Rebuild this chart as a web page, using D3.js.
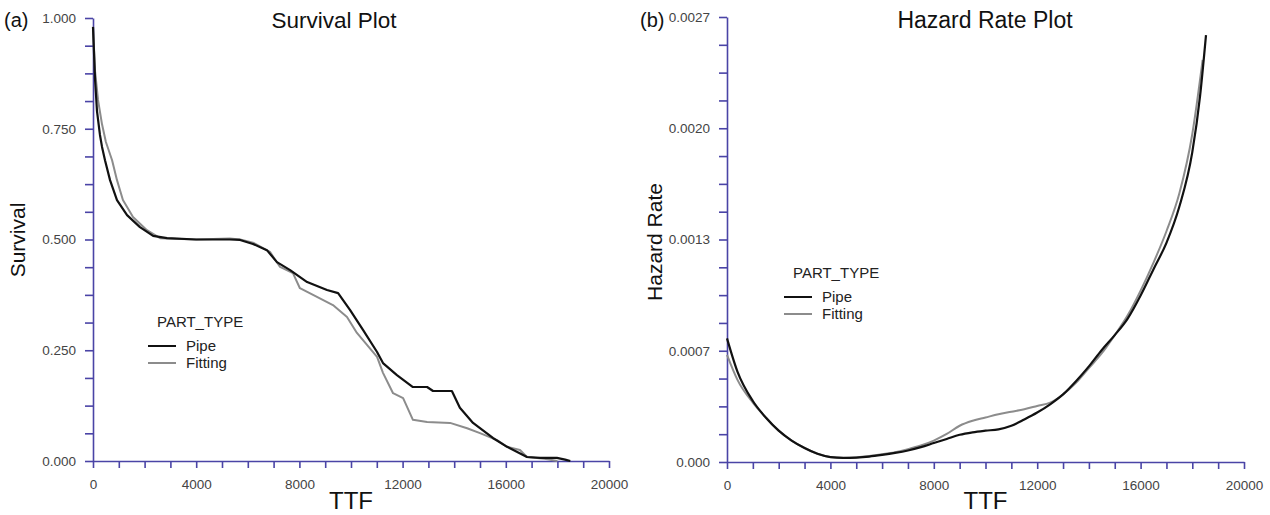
<!DOCTYPE html>
<html><head><meta charset="utf-8">
<script src="https://cdn.jsdelivr.net/npm/d3@7"></script>
<style>body{margin:0;background:#fff;}text{font-family:"Liberation Sans",Arial,sans-serif;}</style>
</head><body><svg id="c" width="1270" height="515"></svg>
<script>
// ---------- data ----------
const seriesNames = ["Pipe", "Fitting"];
const survivalPipeT = [0,80,155,270,350,465,660,930,1320,1820,2330,2870,4000,5300,5700,6200,6740,7130,7640,8300,9070,9500,9960,10465,11010,11240,11780,12400,12950,13180,13910,14220,14730,15500,16050,16820,17330,17980,18300,18500];
const survivalPipeS = [0.98,0.86,0.79,0.736,0.709,0.679,0.634,0.589,0.555,0.528,0.508,0.503,0.500,0.500,0.499,0.490,0.476,0.449,0.431,0.404,0.386,0.379,0.341,0.296,0.246,0.221,0.194,0.167,0.167,0.158,0.158,0.120,0.086,0.052,0.032,0.009,0.007,0.007,0.003,0.0];
const survivalFitT = [0,80,194,350,500,740,930,1160,1550,2090,2600,4000,5300,5700,6200,6860,7250,7750,8020,8530,9300,9845,10230,10620,11010,11240,11630,12020,12400,12950,13840,14500,15000,15660,16050,16550,16820,17500,18000];
const survivalFitS = [0.98,0.88,0.815,0.76,0.72,0.679,0.634,0.589,0.551,0.521,0.503,0.500,0.502,0.500,0.493,0.472,0.438,0.424,0.390,0.375,0.352,0.325,0.289,0.262,0.235,0.199,0.153,0.142,0.093,0.088,0.086,0.074,0.063,0.047,0.032,0.025,0.009,0.005,0.0];
const hazardPipeT = [0,400,1000,1500,2000,2500,3000,3500,4000,4500,5000,5500,6000,6500,7000,7500,8000,8500,9000,9500,10000,10500,11000,11500,12000,12500,13000,13500,14000,14500,15000,15500,16000,16500,17000,17500,18000,18300,18530];
const hazardPipeH = [0.00075,0.00055,0.00037,0.00027,0.00019,0.00013,0.000085,0.00005,0.00003,0.000025,0.000027,0.000033,0.000043,0.000055,0.00007,0.00009,0.000115,0.00014,0.000165,0.00018,0.00019,0.000198,0.00022,0.000258,0.0003,0.00035,0.00041,0.00049,0.00058,0.00068,0.00077,0.00087,0.00101,0.00117,0.00133,0.00155,0.00188,0.00222,0.00259];
const hazardFitT = [0,400,1000,1500,2000,2500,3000,3500,4000,4500,5000,5500,6000,6500,7000,7500,8000,8500,9000,9500,10000,10500,11000,11500,12000,12500,13000,13500,14000,14500,15000,15500,16000,16500,17000,17500,18000,18400];
const hazardFitH = [0.00065,0.0005,0.00036,0.00027,0.00019,0.00013,0.000085,0.00005,0.00003,0.000025,0.000028,0.000036,0.000047,0.00006,0.000078,0.0001,0.00013,0.00017,0.00022,0.00025,0.00027,0.00029,0.000305,0.00032,0.00034,0.00036,0.00041,0.00048,0.00057,0.00066,0.00077,0.00089,0.00104,0.00121,0.0014,0.00163,0.00199,0.00244];
const xTickValues = [0,4000,8000,12000,16000,20000];
const xTickLabels = ["0","4000","8000","12000","16000","20000"];
const survivalTickLabels = ["0.000","0.250","0.500","0.750","1.000"];
const hazardTickLabels = ["0.000","0.0007","0.0013","0.0020","0.0027"];

// ---------- drawing ----------
const svg = d3.select("#c");
const axisColor = "#4a44a6";
const colors = ["#111111","#8c8c8c"];

function panel(opt){
  const x = d3.scaleLinear().domain([0,20000]).range([opt.x0,opt.x1]);
  const y = d3.scaleLinear().domain([0,opt.ymax]).range([opt.y0,opt.y1]);
  const g = svg.append("g");
  const xMinor = d3.range(0,20001,1000);
  const yMinor = d3.range(0,17).map(i=>opt.ymax*i/16);
  const xa = d3.axisBottom(x).tickValues(xMinor).tickSize(7).tickFormat((d)=>{const i=xTickValues.indexOf(d);return i>=0?xTickLabels[i]:"";}).tickSizeOuter(0);
  const ya = d3.axisLeft(y).tickValues(yMinor).tickSize(8).tickSizeOuter(0).tickFormat((d,i)=> i%4===0 ? opt.labels[i/4] : "");
  const gx = g.append("g").attr("transform",`translate(0,${opt.y0})`).call(xa);
  const gy = g.append("g").attr("transform",`translate(${opt.x0},0)`).call(ya);
  [gx,gy].forEach(a=>{
    a.selectAll("path,line").attr("stroke",axisColor).attr("stroke-width",1.6);
    a.selectAll("text").attr("fill","#444").attr("font-size",13.5).attr("font-family","Liberation Sans, Arial, sans-serif");
  });
  gx.selectAll("text").attr("dy","1.3em");
  gy.selectAll("text").attr("dx","-0.45em");
  const line = d3.line().x(d=>x(d[0])).y(d=>y(d[1])).curve(opt.curve);
  g.append("path").datum(opt.series[1]).attr("fill","none").attr("stroke",colors[1]).attr("stroke-width",2).attr("stroke-linejoin","round").attr("d",line);
  g.append("path").datum(opt.series[0]).attr("fill","none").attr("stroke",colors[0]).attr("stroke-width",2.2).attr("stroke-linejoin","round").attr("d",line);
  // titles
  g.append("text").attr("x",opt.titleX).attr("y",28).attr("text-anchor","middle").attr("font-size",opt.titleSize).attr("fill","#111").text(opt.title);
  g.append("text").attr("x",opt.panelX).attr("y",27).attr("font-size",20).attr("fill","#111").text(opt.panelLabel);
  g.append("text").attr("x",(opt.x0+opt.x1)/2).attr("y",509).attr("text-anchor","middle").attr("font-size",24).attr("fill","#111").text("TTF");
  g.append("text").attr("transform",`translate(${opt.ytX},${opt.ytY}) rotate(-90)`).attr("text-anchor","middle").attr("font-size",21).attr("fill","#111").text(opt.ytitle);
  // legend
  const lg = g.append("g").attr("transform",`translate(${opt.legX},${opt.legY})`);
  lg.append("text").attr("x",9).attr("y",0).attr("font-size",15).attr("fill","#222").text("PART_TYPE");
  seriesNames.forEach((n,i)=>{
    lg.append("line").attr("x1",0).attr("x2",28).attr("y1",19+i*17).attr("y2",19+i*17).attr("stroke",colors[i]).attr("stroke-width",2);
    lg.append("text").attr("x",38).attr("y",24+i*17).attr("font-size",15).attr("fill","#222").text(n);
  });
}

panel({x0:93,x1:609,y0:461,y1:18,ymax:1,labels:survivalTickLabels,
  series:[d3.zip(survivalPipeT,survivalPipeS),d3.zip(survivalFitT,survivalFitS)],
  curve:d3.curveLinear,title:"Survival Plot",titleX:334,titleSize:22.5,panelLabel:"(a)",panelX:4,
  ytitle:"Survival",ytX:25,ytY:240,legX:148,legY:327});
panel({x0:727,x1:1244,y0:462,y1:17,ymax:0.0027,labels:hazardTickLabels,
  series:[d3.zip(hazardPipeT,hazardPipeH),d3.zip(hazardFitT,hazardFitH)],
  curve:d3.curveMonotoneX,title:"Hazard Rate Plot",titleX:985,titleSize:23,panelLabel:"(b)",panelX:640,
  ytitle:"Hazard Rate",ytX:662,ytY:242,legX:784,legY:278});
</script></body></html>
